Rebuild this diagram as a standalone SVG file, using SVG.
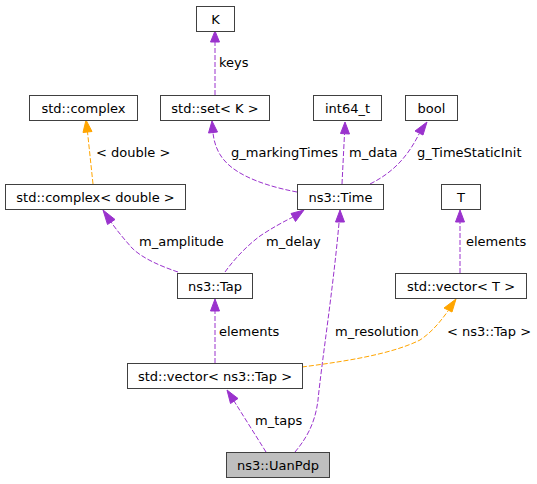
<svg xmlns="http://www.w3.org/2000/svg" width="537" height="484" viewBox="0 0 537 484">
<style>
.box{fill:#ffffff;stroke:#404040;stroke-width:1}
.cur{fill:#bfbfbf;stroke:#404040;stroke-width:1}
.nt{font-family:"DejaVu Sans",sans-serif;font-size:13px;fill:#000;text-anchor:middle}
.lb{font-family:"DejaVu Sans",sans-serif;font-size:13px;fill:#000;text-anchor:start}
.ep{fill:none;stroke:#9a32cd;stroke-width:1;stroke-dasharray:5,2}
.eo{fill:none;stroke:#ffa500;stroke-width:1;stroke-dasharray:5,2}
.ap{fill:#9a32cd;stroke:#9a32cd}
.ao{fill:#ffa500;stroke:#ffa500}
</style>
<rect width="537" height="484" fill="#ffffff"/>
<g id="connectors">
<path class="ep" d="M215,95 L215,42"/>
<polygon class="ap" points="215,31 219.5,42 210.5,42"/>
<text class="lb" x="219" y="66.5">keys</text>

<path class="ep" d="M297,192 C270,187 238,177 224,160 C217,152 214,142 213,133"/>
<polygon class="ap" points="212,121 217.5,132 208.5,133"/>
<text class="lb" x="231" y="156.5">g_markingTimes</text>

<path class="ep" d="M342,184 L344.5,134"/>
<polygon class="ap" points="345,122 349.5,134 340.5,133.5"/>
<text class="lb" x="349" y="156.5">m_data</text>

<path class="ep" d="M370,184 C392,173 407,158 419,134"/>
<polygon class="ap" points="427,122 423,135 415,131"/>
<text class="lb" x="417" y="156.5">g_TimeStaticInit</text>

<path class="eo" d="M93,184 L87.5,132"/>
<polygon class="ao" points="86,120 92,131.5 83,132.5"/>
<text class="lb" x="96" y="156.5">&lt; double &gt;</text>

<path class="ep" d="M178,272 C160,266 142,258 132,248 C125,240 118,232 111,222"/>
<polygon class="ap" points="103,210 115,219.5 107.5,224.5"/>
<text class="lb" x="139" y="245.5">m_amplitude</text>

<path class="ep" d="M225,272 C235,258 248,245 260,236 C272,228 283,222 293,217"/>
<polygon class="ap" points="304,210 295.5,221.5 291,213.5"/>
<text class="lb" x="266" y="245.5">m_delay</text>

<path class="ep" d="M295,452 C305,440 315,425 318,400 C322,360 333,290 339,223"/>
<polygon class="ap" points="340,210 344.5,222 335.5,222"/>
<text class="lb" x="335" y="335.5">m_resolution</text>

<path class="ep" d="M215,363 L215,311"/>
<polygon class="ap" points="215,299 219.5,311 210.5,311"/>
<text class="lb" x="219" y="335.5">elements</text>

<path class="eo" d="M302,367 C340,362 390,355 420,340 C432,332 440,322 448,311"/>
<polygon class="ao" points="456,299 452,312 444,308"/>
<text class="lb" x="447" y="335.5">&lt; ns3::Tap &gt;</text>

<path class="ep" d="M460,273 L460,222"/>
<polygon class="ap" points="460,210 464.5,222 455.5,222"/>
<text class="lb" x="466" y="245.5">elements</text>

<path class="ep" d="M266,452 L234,401"/>
<polygon class="ap" points="227,390 238,398.5 230.5,403.5"/>
<text class="lb" x="255" y="424.5">m_taps</text>
</g>

<g id="node-K"><rect class="box" x="196.5" y="6.5" width="38" height="25"/><text class="nt" x="215.5" y="23.5">K</text></g>
<g id="node-complex"><rect class="box" x="29.5" y="95.5" width="108" height="25"/><text class="nt" x="83.5" y="112.5">std::complex</text></g>
<g id="node-set"><rect class="box" x="160.5" y="95.5" width="109" height="25"/><text class="nt" x="215" y="112.5">std::set&lt; K &gt;</text></g>
<g id="node-int64"><rect class="box" x="313.5" y="95.5" width="68" height="25"/><text class="nt" x="347.5" y="112.5">int64_t</text></g>
<g id="node-bool"><rect class="box" x="405.5" y="95.5" width="52" height="25"/><text class="nt" x="431.5" y="112.5">bool</text></g>
<g id="node-complexdouble"><rect class="box" x="5.5" y="184.5" width="180" height="25"/><text class="nt" x="95.5" y="201.5">std::complex&lt; double &gt;</text></g>
<g id="node-Time"><rect class="box" x="297.5" y="184.5" width="86" height="25"/><text class="nt" x="340.5" y="201.5">ns3::Time</text></g>
<g id="node-T"><rect class="box" x="441.5" y="184.5" width="39" height="25"/><text class="nt" x="461" y="201.5">T</text></g>
<g id="node-Tap"><rect class="box" x="177.5" y="273.5" width="75" height="25"/><text class="nt" x="215" y="290.5">ns3::Tap</text></g>
<g id="node-vectorT"><rect class="box" x="395.5" y="273.5" width="131" height="25"/><text class="nt" x="461" y="290.5">std::vector&lt; T &gt;</text></g>
<g id="node-vectorTap"><rect class="box" x="127.5" y="363.5" width="175" height="25"/><text class="nt" x="215" y="380.5">std::vector&lt; ns3::Tap &gt;</text></g>
<g id="node-UanPdp"><rect class="cur" x="226.5" y="452.5" width="103" height="25"/><text class="nt" x="278" y="469.5">ns3::UanPdp</text></g>
</svg>
